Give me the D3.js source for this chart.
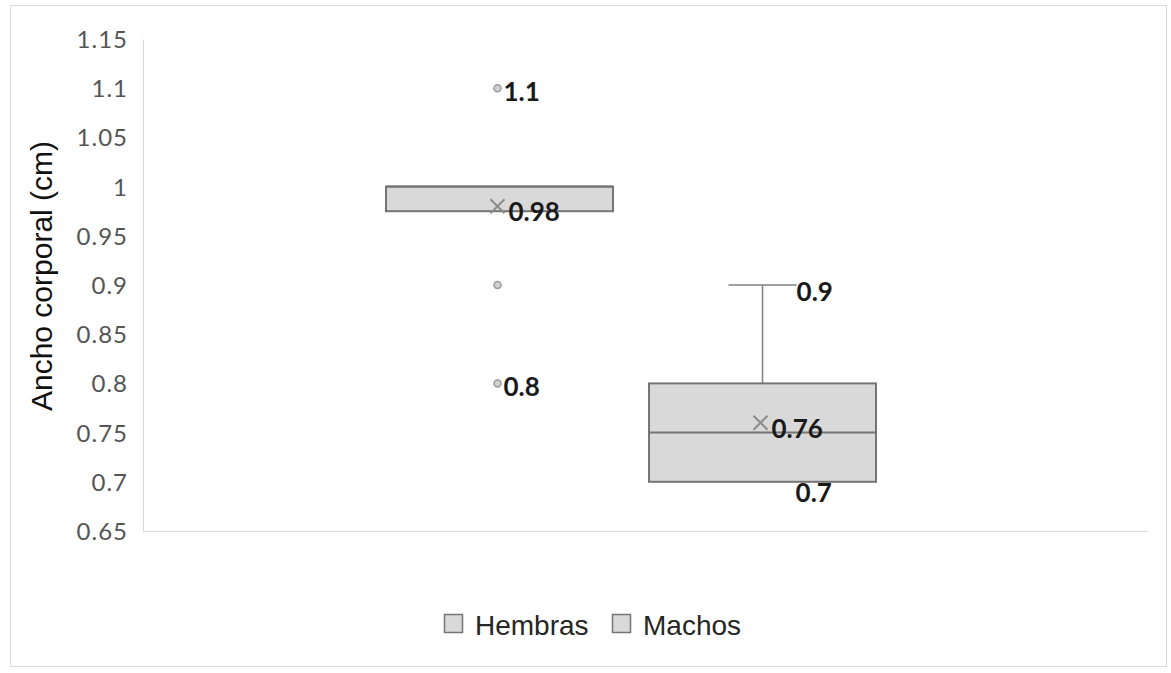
<!DOCTYPE html>
<html>
<head>
<meta charset="utf-8">
<title>Ancho corporal</title>
<script src="https://cdn.jsdelivr.net/npm/d3@7"></script>
<style>
body { margin: 0; background: #fff; }
.tick text { font-family: Lato, sans-serif; font-size: 24px; fill: #555; letter-spacing: 1px; }
.lbl { font-family: Lato, sans-serif; font-size: 26px; font-weight: bold; fill: #1a1a1a; }
.ytitle { font-family: "Liberation Sans", Arial, sans-serif; font-size: 30px; fill: #111; }
.legend text { font-family: "Liberation Sans", Arial, sans-serif; font-size: 28px; fill: #262626; }
</style>
</head>
<body>
<svg width="1171" height="673" id="chart"></svg>
<script>
// data
var series = ["Hembras", "Machos"];
var q1 = [0.975, 0.7];
var median = [1.0, 0.75];
var q3 = [1.0, 0.8];
var whiskerLow = [0.975, 0.7];
var whiskerHigh = [1.0, 0.9];
var means = [0.98, 0.76];
var outliers = [[1.1, 0.9, 0.8], []];
var outlierLabels = [[1.1, 0.8], []];
var yTicks = [0.65, 0.7, 0.75, 0.8, 0.85, 0.9, 0.95, 1, 1.05, 1.1, 1.15];

var svg = d3.select("#chart");

// outer chart frame
svg.append("rect").attr("x", 10.5).attr("y", 5.5).attr("width", 1156).attr("height", 661)
	.attr("fill", "#fff").attr("stroke", "#d9d9d9");

var plot = {left: 143, right: 1148, top: 39, bottom: 531};

var y = d3.scaleLinear().domain([0.65, 1.15]).range([plot.bottom, plot.top]);
var x = d3.scaleBand().domain(series).range([386, 876]).paddingInner(0.137).paddingOuter(0);
var bw = x.bandwidth();

// axes
var yAxis = svg.append("g").attr("transform", "translate(" + plot.left + ",0)")
	.call(d3.axisLeft(y).tickValues(yTicks).tickSize(0).tickPadding(15).tickFormat(function(d) { return String(+d.toFixed(2)); }));
yAxis.select(".domain").attr("stroke", "#d9d9d9");
yAxis.selectAll(".tick text").attr("dy", "0.35em");

svg.append("line").attr("x1", plot.left).attr("x2", plot.right)
	.attr("y1", plot.bottom + 0.5).attr("y2", plot.bottom + 0.5).attr("stroke", "#d9d9d9");

svg.append("text").attr("class", "ytitle")
	.attr("transform", "translate(52," + 276 + ") rotate(-90)")
	.attr("text-anchor", "middle").text("Ancho corporal (cm)");

var g = svg.append("g");

series.forEach(function(s, i) {
	var x0 = x(s), cx = x0 + bw / 2, capW = bw * 0.3;

	// whisker
	if (whiskerHigh[i] > q3[i]) {
		g.append("line").attr("x1", cx).attr("x2", cx).attr("y1", y(q3[i])).attr("y2", y(whiskerHigh[i]))
			.attr("stroke", "#7f7f7f").attr("stroke-width", 1.5);
		g.append("line").attr("x1", cx - capW / 2).attr("x2", cx + capW / 2)
			.attr("y1", y(whiskerHigh[i])).attr("y2", y(whiskerHigh[i]))
			.attr("stroke", "#7f7f7f").attr("stroke-width", 1.5);
	}
	// box
	g.append("rect").attr("x", x0).attr("y", y(q3[i])).attr("width", bw)
		.attr("height", y(q1[i]) - y(q3[i]))
		.attr("fill", "#d9d9d9").attr("stroke", "#757575").attr("stroke-width", 2);
	g.append("line").attr("x1", x0).attr("x2", x0 + bw).attr("y1", y(median[i])).attr("y2", y(median[i]))
		.attr("stroke", "#757575").attr("stroke-width", 2);

	// mean marker
	var mx = cx - 2, my = y(means[i]), r = 7;
	g.append("path").attr("d", "M" + (mx - r) + "," + (my - r) + "L" + (mx + r) + "," + (my + r) +
		"M" + (mx - r) + "," + (my + r) + "L" + (mx + r) + "," + (my - r))
		.attr("stroke", "#8c8c8c").attr("stroke-width", 2).attr("fill", "none");
	g.append("text").attr("class", "lbl").attr("x", mx + 11).attr("y", my + 5)
		.attr("dominant-baseline", "central").text(means[i]);

	// outliers
	outliers[i].forEach(function(v) {
		g.append("circle").attr("cx", mx).attr("cy", y(v)).attr("r", 3.5)
			.attr("fill", "#d0d0d0").attr("stroke", "#9a9a9a").attr("stroke-width", 1.5);
	});
	outlierLabels[i].forEach(function(v) {
		g.append("text").attr("class", "lbl").attr("x", mx + 6).attr("y", y(v) + 3)
			.attr("dominant-baseline", "central").text(v);
	});

	// whisker end labels
	if (whiskerHigh[i] > q3[i]) {
		g.append("text").attr("class", "lbl").attr("x", cx + capW / 2).attr("y", y(whiskerHigh[i]) + 6)
			.attr("dominant-baseline", "central").text(whiskerHigh[i]);
		g.append("text").attr("class", "lbl").attr("x", cx + capW / 2 - 1).attr("y", y(whiskerLow[i]) + 10)
			.attr("dominant-baseline", "central").text(whiskerLow[i]);
	}
});

// legend
var legend = svg.append("g").attr("class", "legend");
var legX = [444, 612];
series.forEach(function(s, i) {
	legend.append("rect").attr("x", legX[i] + 0.5).attr("y", 614.5).attr("width", 18).attr("height", 18)
		.attr("fill", "#d9d9d9").attr("stroke", "#757575").attr("stroke-width", 1.5);
	legend.append("text").attr("x", legX[i] + 31).attr("y", 635).text(s);
});
</script>
</body>
</html>
